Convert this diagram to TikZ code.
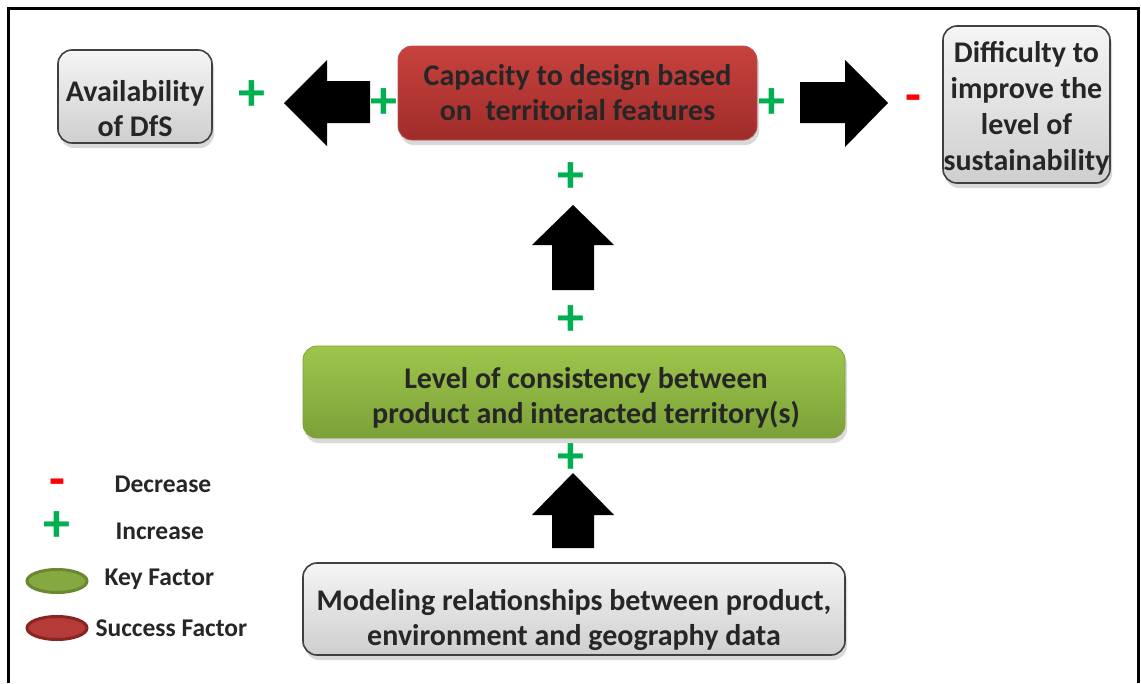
\documentclass[tikz,border=0pt]{standalone}
\usepackage{fontspec}
\setmainfont{Carlito}
\usetikzlibrary{positioning,shadows,shapes.geometric}

\definecolor{plusgreen}{RGB}{0,176,80}
\definecolor{sfred}{RGB}{200,66,62}
\definecolor{sfreddark}{RGB}{160,44,41}
\definecolor{kfgreen}{RGB}{158,198,76}
\definecolor{kfgreendark}{RGB}{124,160,56}

\tikzset{
  factor/.style={rounded corners=14pt, inner sep=0pt,
    drop shadow={shadow xshift=2pt, shadow yshift=-5pt, opacity=0.3}},
  neutral/.style={factor, draw=black!75, line width=1.6pt,
    top color=gray!8, bottom color=gray!38},
  success/.style={factor, draw=sfreddark!80, line width=0.8pt,
    top color=sfred, bottom color=sfreddark},
  keyfac/.style={factor, draw=kfgreendark, line width=0.8pt,
    top color=kfgreen, bottom color=kfgreendark},
  factortext/.style={align=center, inner sep=0pt, text=black!85,
    font=\bfseries\fontsize{30}{35}\selectfont},
  pluslbl/.style={text=plusgreen, inner sep=0pt,
    font=\bfseries\fontsize{54}{54}\selectfont},
  minuslbl/.style={text=red, inner sep=0pt,
    font=\bfseries\fontsize{52}{52}\selectfont},
  legtext/.style={anchor=west, text=black!85,
    font=\bfseries\fontsize{25.5}{28}\selectfont},
  blockarrow/.style={fill=black}
}

\begin{document}
\begin{tikzpicture}[x=1pt,y=-1pt]
\useasboundingbox (0,0) rectangle (1141,683);
% outer frame, open at the bottom
\draw[line width=3pt] (8,683) -- (8,8) -- (1138,8) -- (1138,683);

% factors
\node[success, minimum width=359pt, minimum height=94pt] (capacity) at (577.5,93) {};
\node[neutral, minimum width=154pt, minimum height=93pt] (avail) at (135,96.5) {};
\node[neutral, minimum width=167pt, minimum height=157pt] (difficulty) at (1026.5,104.5) {};
\node[keyfac, minimum width=542pt, minimum height=92pt] (consist) at (574,392) {};
\node[neutral, minimum width=542pt, minimum height=92pt] (model) at (574,609) {};

% factor texts
\node[factortext] (capacitytext) at (capacity.center)
  {Capacity to design based\\on \ territorial features};
\node[factortext] (availtext) at ([yshift=-12pt]avail.center)
  {Availability\\of DfS};
\node[factortext, font=\bfseries\fontsize{30}{36}\selectfont] (difficultytext)
  at ([yshift=-4pt]difficulty.center)
  {Difficulty to\\improve the\\level of\\sustainability};
\node[factortext] (consisttext) at ([xshift=12pt,yshift=-6pt]consist.center)
  {Level of consistency between\\product and interacted territory(s)};
\node[factortext] (modeltext) at ([yshift=-11pt]model.center)
  {Modeling relationships between product,\\environment and geography data};

% block arrows
\fill[blockarrow] (284,103) -- (327,60) -- (327,81) -- (370,81)
  -- (370,123) -- (327,123) -- (327,146) -- cycle;
\fill[blockarrow] (888,103) -- (845,60) -- (845,82) -- (800,82)
  -- (800,123) -- (845,123) -- (845,147) -- cycle;
\foreach \t/\b/\e in {205/245/290, 473/515/548}{
  \fill[blockarrow] (573,\t) -- (614,\b) -- (594,\b) -- (594,\e)
    -- (552,\e) -- (552,\b) -- (532,\b) -- cycle;
}

% signs
\foreach \n/\x/\y in {pavail/252/96, pcapl/384/104, pcapr/772/104,
  pcapb/571/178, pcons/571/321, pconsb/571/459, pleg/57/527}{
  \node[pluslbl] (\n) at (\x,\y) {+};
}
\node[minuslbl] (mdiff) at (913,104) {-};
\node[minuslbl] (mleg) at (57,488) {-};

% legend
\node[ellipse, draw=kfgreendark!85!black, line width=3pt, fill=kfgreen!85!black,
  minimum width=60pt, minimum height=23pt, inner sep=0pt] (kfkey) at (57,581) {};
\node[ellipse, draw=sfreddark!85!black, line width=3pt, fill=sfred!90!black,
  minimum width=60pt, minimum height=23pt, inner sep=0pt] (sfkey) at (57,628) {};
\node[legtext] (dectext) at (111,484) {Decrease};
\node[legtext] (inctext) at (112,531) {Increase};
\node[legtext] (kftext) at (101,579) {Key Factor};
\node[legtext] (sftext) at (92,628) {Success Factor};
\end{tikzpicture}
\end{document}
